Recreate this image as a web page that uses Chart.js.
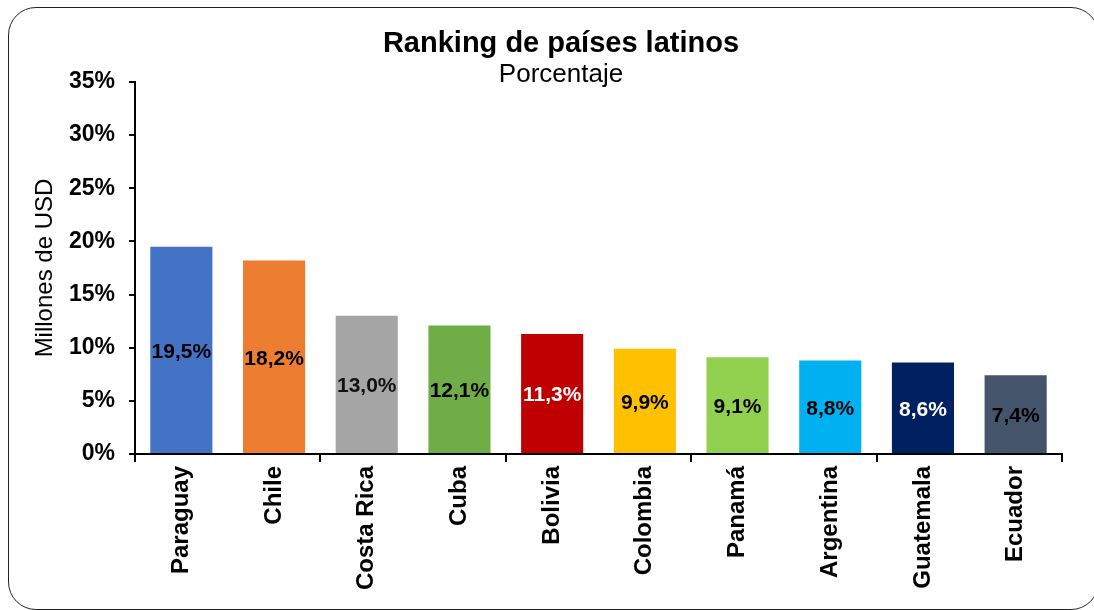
<!DOCTYPE html>
<html><head><meta charset="utf-8">
<script src="https://cdn.jsdelivr.net/npm/chart.js@4"></script>
<style>
html,body{margin:0;padding:0;background:#fff;}
#wrap{position:relative;width:1094px;height:610px;overflow:hidden;background:#fff;}
#frame{position:absolute;left:8px;top:7px;width:1091px;height:603px;border:1.5px solid #222;border-radius:28px;pointer-events:none;box-sizing:border-box;}
canvas{position:absolute;left:0;top:0;}
</style></head><body>
<div id="wrap"><canvas id="c" width="1094" height="610"></canvas><div id="frame"></div></div>
<script>
const categories = ['Paraguay','Chile','Costa Rica','Cuba','Bolivia','Colombia','Panamá','Argentina','Guatemala','Ecuador'];
const values = [19.5, 18.2, 13.0, 12.1, 11.3, 9.9, 9.1, 8.8, 8.6, 7.4];
const barColors = ['#4472C4','#ED7D31','#A5A5A5','#70AD47','#C00000','#FFC000','#92D050','#00B0F0','#002060','#44546A'];
const labelColors = ['#000','#000','#111','#000','#fff','#000','#000','#000','#fff','#000'];
const yMin = 0, yMax = 35, yStep = 5;
const titleText = 'Ranking de países latinos';
const subtitleText = 'Porcentaje';
const yTitleText = 'Millones de USD';

const FONT = '"Liberation Sans", Arial, sans-serif';
Chart.defaults.font.family = FONT;
Chart.defaults.color = '#000';

const fmt = v => v.toFixed(1).replace('.', ',') + '%';

const barLabels = {
  id: 'barLabels',
  afterDatasetsDraw(chart) {
    const ctx = chart.ctx;
    const meta = chart.getDatasetMeta(0);
    ctx.save();
    ctx.font = 'bold 21px ' + FONT;
    ctx.textAlign = 'center';
    ctx.textBaseline = 'middle';
    meta.data.forEach((bar, i) => {
      ctx.fillStyle = labelColors[i];
      ctx.fillText(fmt(values[i]), bar.x, (bar.y + bar.base) / 2 + 2);
    });
    ctx.restore();
  }
};

new Chart(document.getElementById('c'), {
  type: 'bar',
  data: {
    labels: categories,
    datasets: [{
      data: values,
      backgroundColor: barColors,
      borderWidth: 0,
      barPercentage: 0.67,
      categoryPercentage: 1.0
    }]
  },
  options: {
    responsive: false,
    animation: false,
    devicePixelRatio: 1,
    layout: { padding: { top: 29, left: 30, right: 2, bottom: 0 } },
    plugins: {
      legend: { display: false },
      tooltip: { enabled: false },
      title: {
        display: true, text: titleText, color: '#000',
        font: { size: 29, weight: 'bold', lineHeight: 1 },
        padding: { top: 0, bottom: 0 }
      },
      subtitle: {
        display: true, text: subtitleText, color: '#000',
        font: { size: 26, weight: 'normal', lineHeight: 0.5 },
        padding: { top: 10, bottom: 1 }
      }
    },
    scales: {
      x: {
        grid: {
          offset: true, drawOnChartArea: false, drawTicks: true, tickLength: 8, lineWidth: 2,
          color: ctx => (ctx.index === undefined || ctx.index % 2 === 0) ? '#000' : 'rgba(0,0,0,0)'
        },
        border: { display: true, color: '#000', width: 2 },
        ticks: {
          color: '#000', autoSkip: false, minRotation: 90, maxRotation: 90, padding: 4,
          font: { size: 24, weight: 'bold' }
        },
        afterFit(s) { s.height = 156; }
      },
      y: {
        min: yMin, max: yMax,
        grid: { drawOnChartArea: false, drawTicks: true, tickLength: 6, lineWidth: 2, color: '#000' },
        border: { display: true, color: '#000', width: 2 },
        ticks: {
          stepSize: yStep, color: '#000', padding: 14,
          font: { size: 23, weight: 'bold' },
          callback: v => v + '%'
        },
        title: {
          display: true, text: yTitleText, color: '#000',
          font: { size: 24, weight: 'normal', lineHeight: 1.2 },
          padding: { top: 1, bottom: 0 }
        },
        afterFit(s) { s.width = 105; }
      },
      yRight: {
        position: 'right',
        display: true,
        min: yMin, max: yMax,
        grid: { display: false, drawTicks: false },
        border: { display: false },
        ticks: { display: false },
        afterFit(s) { s.width = 30; }
      }
    }
  },
  plugins: [barLabels]
});
</script>
</body></html>
